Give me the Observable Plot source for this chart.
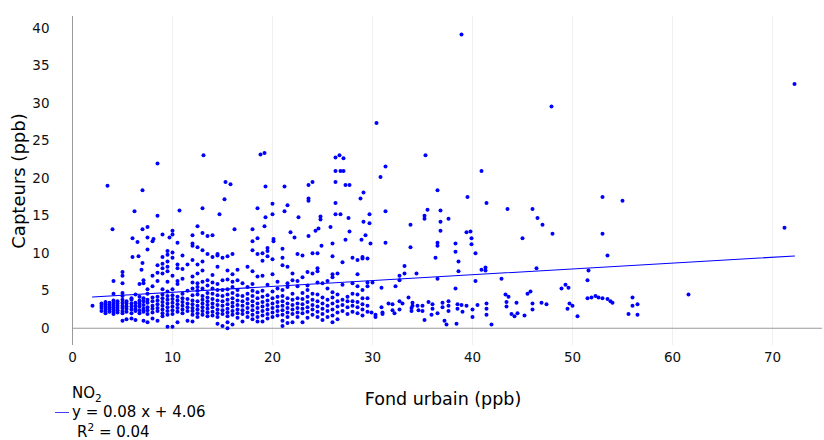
<!DOCTYPE html>
<html><head><meta charset="utf-8">
<script src="https://cdn.jsdelivr.net/npm/d3@7"></script>
<script src="https://cdn.jsdelivr.net/npm/@observablehq/plot@0.6"></script>
<style>
body{margin:0;background:#fff;font-family:"DejaVu Sans",sans-serif;}
#wrap{position:relative;width:824px;height:440px;overflow:hidden;}
.lbl{position:absolute;color:#000;white-space:nowrap;line-height:1;}
sub,sup{font-size:70%;line-height:0;}
</style></head><body><div id="wrap"></div>
<script>
// Dense band: x column positions and the y values seen in each column
const columnX = [2.0,2.9,3.3,3.7,4.1,4.5,5.0,5.4,5.9,6.3,6.7,7.1,7.5,8.0,8.5,9.0,9.5,10.0,10.5,11.0,11.5,12.0,12.5,13.0,13.5,14.0,14.5,15.0,15.5,16.0,16.5,17.0,17.5,18.0,18.5,19.0,19.5,20.0,20.5,21.0,21.5,22.0,22.5,23.0,23.5,24.0,24.5,25.0,25.5,26.0,26.5,27.0,27.5,28.0,28.5,29.0,29.5];
const columnY = [
  [3.0],
  [2.3,2.7,3.0,3.3],
  [2.0,2.3,2.6,2.9,3.2,3.5],
  [2.2,2.5,2.8,3.1,3.4],
  [1.9,2.2,2.5,2.8,3.1,3.4,3.7],
  [2.1,2.4,2.7,3.0,3.3,3.6],
  [1.0,2.0,2.3,2.7,3.0,3.4,3.8,4.3],
  [1.2,2.2,2.6,2.9,3.3,3.6],
  [1.3,2.0,2.5,2.9,3.3,3.8,4.0],
  [1.1,2.3,2.6,3.0,3.4,4.5],
  [2.0,2.4,2.9,3.3,3.7,4.2,5.9],
  [1.0,2.2,2.6,3.1,3.6,4.0,6.0,6.4],
  [0.8,1.9,2.4,2.8,3.4,3.8,4.6,5.2],
  [1.3,2.1,2.6,3.0,3.6,4.1,5.6,7.0],
  [1.0,2.3,2.7,3.2,3.7,4.2,6.3,7.4,8.4],
  [1.6,2.0,2.5,3.0,3.5,4.0,4.5,5.2,7.3,8.0,8.6,9.5],
  [0.2,1.8,2.3,2.8,3.3,3.8,4.3,4.9,6.2,7.6,8.2,8.9,9.8,10.3],
  [0.2,1.9,2.4,2.9,3.4,3.9,4.4,5.2,7.0,9.4,10.1],
  [0.8,2.2,2.7,3.2,3.7,4.2,5.9,6.3,8.0,8.5],
  [2.0,2.5,3.0,3.5,4.0,4.6,6.6,7.9,9.7],
  [1.0,2.3,2.8,3.3,3.9,5.0,8.5],
  [0.9,1.8,2.3,2.7,3.2,3.7,4.4,5.3,6.1,6.9,9.1,11.0,11.3],
  [1.5,2.0,2.5,3.0,3.6,4.5,5.0,5.5,6.0,7.3,8.5,10.8],
  [1.8,2.3,2.8,3.3,3.8,4.3,5.3,6.2,7.7,8.9,10.4],
  [1.6,2.1,2.6,3.1,3.6,4.1,4.7,5.7,6.4,9.9],
  [1.7,2.2,2.8,3.3,3.9,4.6,5.3,6.1,7.1,9.5],
  [0.6,1.5,2.0,2.5,3.1,3.7,4.4,5.1,5.9,8.2,9.7,9.9],
  [0.3,1.9,2.4,3.0,3.6,4.3,5.1,6.4,9.4],
  [0.0,0.8,1.6,2.1,2.6,3.2,3.8,4.5,5.2,6.5,7.7,9.6],
  [0.5,1.8,2.3,2.9,3.4,4.0,4.7,5.5,6.2,7.2,9.9],
  [1.4,2.0,2.5,3.1,3.7,4.4,5.1,6.4,7.8],
  [0.9,1.9,2.4,3.0,3.6,4.3,6.0],
  [1.5,2.1,2.7,3.3,3.9,4.6,5.5,8.2],
  [1.2,1.8,2.4,3.0,3.6,4.3,5.0,5.9,7.6,10.4,11.6],
  [0.9,1.5,2.1,2.7,3.3,4.0,4.8,6.9,9.9,12.0],
  [0.9,1.7,2.3,2.9,3.5,4.2,5.0,7.0,9.0,10.0],
  [1.3,1.9,2.5,3.1,3.7,4.4,5.8,9.6,10.3,10.7],
  [1.5,2.1,2.7,3.3,4.0,4.9,7.2,9.2],
  [1.7,2.3,2.9,3.5,4.2,5.3,6.2],
  [0.3,1.0,1.8,2.4,3.0,3.6,4.3,5.1,8.4,9.4,10.6],
  [0.7,1.5,2.1,2.7,3.3,4.0,5.5,6.0,8.2],
  [0.8,1.9,2.5,3.1,3.8,4.6,6.4,7.3],
  [1.5,2.1,2.7,3.3,4.0,5.6,6.3,9.9],
  [0.8,2.0,2.6,3.2,3.9,4.7,6.8,9.7],
  [1.4,2.2,2.8,3.5,4.2,5.1,5.7,7.5],
  [1.8,2.5,3.1,3.8,4.6,7.3,10.0],
  [1.5,2.2,2.9,3.6,4.5,6.1,7.6,8.0,10.0],
  [1.1,1.9,2.6,3.3,4.1,6.0],
  [1.5,2.3,3.0,3.8,5.3,6.3],
  [0.8,1.7,2.5,3.3,4.1,4.8,6.8,7.2,9.6,11.3],
  [1.2,2.1,2.9,3.6,4.5,7.3],
  [2.3,3.1,3.8,5.8,8.8],
  [1.9,2.8,3.6,4.2],
  [2.2,3.0,3.6,4.6,6.0,9.4],
  [2.0,2.8,3.5,4.5,5.6,7.2,9.1],
  [1.7,2.5,3.2,4.0,5.1,9.3,9.5],
  [2.2,3.0,4.0,5.6,6.1,9.3]
];
// Isolated points [x, y]
const isolatedPoints = [
  [3.5,19.0],[4.0,13.2],[4.1,6.3],[4.1,4.6],[5.0,7.5],[5.0,7.0],[5.0,6.0],[5.0,4.7],[6.2,15.6],[6.0,12.0],[6.0,9.5],
  [6.5,11.5],[6.6,9.6],[7.0,18.4],[7.0,13.2],[7.0,8.7],[6.9,7.8],[7.5,13.5],[7.5,12.1],[7.5,10.5],[8.0,11.6],[8.1,11.9],
  [8.5,22.0],[8.5,15.0],[9.0,12.5],[9.7,12.1],[10.0,13.0],[10.0,12.5],[10.7,15.7],[10.5,11.4],[12.0,12.4],[12.5,13.6],
  [13.0,12.7],[13.0,16.0],[13.1,23.1],[13.5,12.3],[14.0,12.4],[14.7,15.2],[15.2,17.2],[15.3,19.5],[15.8,19.2],[16.2,13.2],
  [18.0,13.2],[18.5,16.0],[18.8,23.2],[19.2,23.4],[19.3,18.9],[19.3,14.8],[19.2,13.6],[20.0,16.6],[20.0,15.2],[20.1,11.9],
  [20.1,11.6],[21.2,18.9],[21.2,15.6],[21.5,16.4],[21.8,12.8],[22.2,12.1],[22.6,14.8],[23.6,19.1],[23.6,17.3],[23.6,17.0],
  [24.0,19.5],[24.3,13.0],[24.6,13.3],[24.8,14.9],[24.8,14.5],[24.9,11.0],[23.6,12.3],[25.8,13.5],[26.3,22.8],[26.3,21.0],
  [26.3,19.5],[26.3,16.7],[26.3,15.2],[26.7,23.1],[26.8,21.0],[27.1,22.7],[27.1,21.0],[26.8,15.2],[27.3,19.1],[27.7,19.1],
  [27.6,14.7],[27.7,12.9],[27.3,11.8],[28.8,17.3],[29.1,18.1],[29.1,14.2],[29.3,12.4],[28.9,11.8],[29.7,15.2],[29.7,14.0],
  [29.8,11.3],[30.4,27.4],[30.8,20.2],[31.3,21.6],[31.3,15.6],[31.3,11.4],[33.8,13.8],[33.8,10.8],[35.3,23.1],[35.2,15.0],
  [35.2,14.6],[35.5,15.8],[36.5,18.4],[36.8,15.7],[36.5,11.4],[36.5,11.0],[36.8,14.2],[36.8,13.0],[37.6,14.6],[36.3,9.4],
  [38.9,39.2],[38.3,11.3],[38.3,10.2],[39.5,17.5],[39.4,12.8],[39.8,12.9],[39.9,12.0],[39.9,11.2],[40.3,10.0],[38.6,8.9],
  [38.6,7.6],[40.9,21.0],[41.4,16.7],[40.9,7.8],[41.3,8.1],[41.3,7.7],[40.3,6.3],[43.5,15.9],[45.0,12.0],[46.0,15.9],
  [46.5,14.7],[47.0,13.8],[48.0,12.6],[47.9,29.6],[46.4,8.0],[42.9,6.6],[51.5,6.4],[51.6,7.7],[53.0,17.5],[53.0,12.6],
  [53.5,9.7],[55.0,17.0],[71.2,13.4],[72.2,32.6],[61.6,4.5],
  [30.0,6.1],[30.3,1.8],[30.3,1.5],[29.9,2.1],[30.9,5.4],[30.9,2.8],[31.0,2.1],[31.0,1.9],[31.6,3.3],[32.0,3.2],[32.0,2.4],
  [32.3,5.6],[32.2,2.0],[32.7,7.0],[32.7,6.4],[32.7,3.6],[32.7,2.5],[33.2,8.3],[33.2,7.3],[33.0,3.3],[33.6,4.1],[33.9,2.7],
  [33.9,2.3],[34.0,3.0],[34.0,3.4],[34.4,7.3],[34.5,3.0],[34.6,2.4],[35.0,2.3],[35.0,3.0],[35.2,1.1],[35.6,3.5],[35.9,1.8],
  [36.0,2.6],[36.0,3.2],[36.5,2.0],[36.5,6.6],[37.0,3.4],[37.0,2.8],[37.2,1.0],[37.4,0.5],[37.6,3.6],[37.6,3.0],[37.6,2.3],
  [38.3,5.3],[38.5,3.2],[38.5,2.6],[38.4,0.6],[38.9,3.1],[39.0,2.2],[39.4,3.0],[40.0,2.5],[40.0,1.5],[40.5,3.1],[41.4,3.3],
  [41.4,2.6],[41.4,1.8],[41.9,0.5],[43.3,4.5],[43.4,3.5],[43.4,2.9],[43.6,4.2],[43.9,1.9],[44.2,1.6],[44.4,3.4],[44.5,2.0],
  [45.2,1.7],[45.5,4.6],[45.8,4.9],[46.0,3.3],[46.0,2.5],[46.9,3.4],[47.4,3.2],[48.9,5.3],[49.3,5.8],[49.6,5.4],[49.7,3.3],
  [49.5,2.6],[50.0,3.0],[50.5,1.6],[51.5,4.0],[51.9,4.1],[52.3,4.3],[52.6,4.1],[53.0,4.0],[53.5,3.9],[53.8,3.6],[54.0,3.4],
  [55.6,1.9],[56.0,3.0],[56.0,4.1],[56.5,3.2],[56.5,1.8]
];
const xTicks = [0,10,20,30,40,50,60,70];
const yTicks = [0,5,10,15,20,25,30,35,40];
const fitSlope = 0.078, fitIntercept = 4.02;
const fitRange = [2.0, 72.2];
const xTitle = "Fond urbain (ppb)";
const yTitle = "Capteurs (ppb)";
const seriesName = "NO<sub>2</sub>";
const fitLabel = "y = 0.08 x + 4.06";
const r2Label = "R<sup>2</sup> = 0.04";

const points = [];
columnX.forEach((x, i) => columnY[i].forEach(y => points.push({x, y})));
isolatedPoints.forEach(([x, y]) => points.push({x, y}));
const fit = fitRange.map(x => ({x, y: fitSlope * x + fitIntercept}));

const plot = Plot.plot({
  width: 824, height: 440,
  marginLeft: 72, marginRight: 2, marginTop: 16, marginBottom: 95,
  style: {fontFamily: "DejaVu Sans", fontSize: "13.5px", color: "#111", background: "transparent", overflow: "visible"},
  x: {domain: [0, 75], ticks: xTicks, tickSize: 0, tickPadding: 7, label: null, tickFormat: d => String(d)},
  y: {domain: [-2.3, 41.6], ticks: yTicks, tickSize: 0, tickPadding: 23, label: null, tickFormat: d => String(d)},
  marks: [
    Plot.ruleX(xTicks.filter(d => d > 0), {stroke: "#f0f0f0", strokeWidth: 1}),
    Plot.ruleY([0], {stroke: "#9a9a9a", strokeWidth: 1}),
    Plot.ruleX([0], {stroke: "#9a9a9a", strokeWidth: 1}),
    Plot.dot(points, {x: "x", y: "y", r: 2, fill: "#0000ff", stroke: null}),
    Plot.line(fit, {x: "x", y: "y", stroke: "#0000ff", strokeWidth: 1.1})
  ]
});
const wrap = document.getElementById("wrap");
wrap.appendChild(plot);

function addLabel(html, css) {
  const d = document.createElement("div");
  d.className = "lbl";
  d.innerHTML = html;
  Object.assign(d.style, css);
  wrap.appendChild(d);
  return d;
}
addLabel(xTitle, {left: "443px", top: "400px", fontSize: "17.5px", transform: "translate(-50%,-50%)"});
addLabel(yTitle, {left: "19px", top: "181px", fontSize: "18px", transform: "translate(-50%,-50%) rotate(-90deg)"});
addLabel(seriesName, {left: "72px", top: "393px", fontSize: "15px", transform: "translate(0,-50%)"});
addLabel(fitLabel, {left: "72px", top: "412px", fontSize: "15px", transform: "translate(0,-50%)"});
addLabel(r2Label, {left: "77px", top: "432px", fontSize: "15px", transform: "translate(0,-50%)"});
const sw = document.createElement("div");
Object.assign(sw.style, {position: "absolute", left: "55px", top: "412px", width: "14px", height: "1px", background: "#4040ff"});
wrap.appendChild(sw);
</script></body></html>
